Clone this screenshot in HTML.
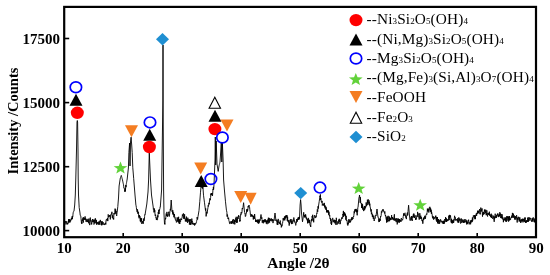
<!DOCTYPE html>
<html><head><meta charset="utf-8"><style>
html,body{margin:0;padding:0;background:#fff;}
svg{display:block;will-change:transform;}
.tk{font-family:"Liberation Serif",serif;font-weight:bold;font-size:15px;fill:#000;}
.ax{font-family:"Liberation Serif",serif;font-weight:bold;font-size:14.5px;fill:#000;}
.lg{font-family:"Liberation Serif",serif;font-size:15.3px;fill:#000;letter-spacing:0.12px;}
.s{font-size:9px;}
</style></head><body>
<svg width="550" height="275" viewBox="0 0 550 275">
<rect x="0" y="0" width="550" height="275" fill="#fff"/>
<polyline points="64.8,222.0 65.0,221.4 65.3,222.4 65.5,221.3 66.0,224.5 66.2,223.6 66.4,222.9 66.6,221.4 66.8,222.0 67.0,221.8 67.2,223.9 67.4,223.1 67.6,224.4 67.8,223.5 68.0,223.4 68.2,223.5 68.4,222.6 68.6,219.1 68.8,222.6 69.0,220.7 69.2,221.9 69.4,222.2 69.6,219.0 69.8,219.3 70.0,222.4 70.2,220.4 70.4,220.5 70.6,221.2 70.8,220.1 71.0,219.6 71.2,220.1 71.4,217.9 71.6,219.1 71.8,219.0 72.0,218.0 72.2,216.2 72.4,219.2 72.6,216.6 72.8,216.9 73.0,214.2 73.2,212.6 73.4,211.7 73.6,211.7 73.8,211.5 74.0,211.0 74.7,205.0 75.3,195.0 75.8,178.0 76.5,150.0 77.0,122.0 77.3,120.5 77.6,122.0 78.0,150.0 78.2,178.0 78.5,195.0 79.2,207.6 80.0,213.0 80.2,215.1 80.4,215.6 80.6,215.6 80.8,215.9 81.0,218.5 81.5,223.4 81.7,221.8 81.9,223.8 82.1,219.8 82.3,220.8 82.5,219.6 82.7,220.5 82.9,217.7 83.1,220.3 83.3,222.6 83.5,220.7 83.7,217.2 83.9,219.5 84.1,219.5 84.3,218.0 84.5,219.0 84.7,219.7 84.9,218.7 85.1,216.4 85.3,219.9 85.5,218.5 85.7,219.9 85.9,220.7 86.1,221.8 86.3,220.4 86.5,220.2 86.7,220.7 86.9,218.8 87.1,222.1 87.3,220.5 87.5,221.8 87.7,220.9 87.9,219.3 88.1,219.6 88.3,220.1 88.5,220.7 88.7,223.3 88.9,218.6 89.1,220.0 89.3,223.2 89.5,223.4 89.7,225.1 89.9,223.0 90.1,218.4 90.3,217.6 90.5,220.2 90.7,221.4 90.9,220.3 91.1,220.3 91.3,224.3 91.5,223.4 91.7,224.3 91.9,221.9 92.1,221.2 92.3,220.6 92.5,219.0 92.7,222.1 92.9,221.1 93.1,221.5 93.3,222.1 93.5,221.8 93.7,219.6 93.9,224.5 94.1,224.3 94.3,223.9 94.5,223.4 94.7,219.7 94.9,221.3 95.1,223.1 95.3,218.3 95.5,220.7 95.8,221.0 96.0,221.8 96.2,223.5 96.4,219.9 96.6,224.7 96.9,223.1 97.1,222.1 97.3,222.9 97.5,222.5 97.7,223.6 97.9,222.8 98.1,224.5 98.4,221.7 98.6,222.2 98.8,224.6 99.0,223.0 99.2,222.9 99.4,221.3 99.6,224.1 99.9,224.8 100.1,221.6 100.3,219.9 100.5,222.0 100.7,222.0 100.9,222.2 101.1,222.2 101.4,225.1 101.6,221.4 101.8,225.3 102.0,223.5 102.2,221.3 102.4,222.0 102.6,224.1 102.9,224.7 103.1,224.2 103.3,223.2 103.5,222.5 103.7,223.2 103.9,223.7 104.1,224.9 104.3,224.2 104.5,225.0 104.7,224.8 104.9,224.7 105.1,223.2 105.4,223.8 105.6,222.8 105.8,224.5 106.0,220.7 106.2,220.9 106.4,219.3 106.6,219.1 106.8,219.3 107.0,219.0 107.2,220.3 107.4,218.1 107.6,219.0 107.8,221.1 108.0,218.0 108.2,214.4 108.4,215.4 108.6,217.2 108.9,217.1 109.1,216.5 109.3,215.0 109.5,215.3 109.7,216.6 109.9,216.2 110.1,215.1 110.3,219.4 110.5,216.4 110.7,216.4 110.9,214.4 111.1,214.6 111.3,213.8 111.5,213.6 111.7,214.2 111.9,211.8 112.1,214.9 112.3,217.9 112.5,217.0 112.7,215.3 112.9,217.3 113.1,219.1 113.3,219.2 113.5,218.0 113.7,219.4 113.9,213.3 114.1,214.4 114.3,213.5 114.5,213.0 114.7,213.6 114.9,213.9 115.1,208.6 115.3,213.1 115.5,211.0 115.7,209.5 115.9,213.7 116.1,211.0 116.3,214.5 116.5,215.0 116.7,215.9 117.0,212.8 117.2,212.0 117.8,206.5 118.5,198.0 119.1,186.0 120.3,178.0 120.5,177.5 120.7,177.0 120.9,176.4 121.1,175.9 121.3,175.4 121.5,176.2 121.7,176.9 121.9,177.7 122.1,178.5 122.3,179.2 122.5,180.0 122.7,181.0 122.9,181.9 123.1,182.9 123.3,183.8 123.5,184.8 123.7,186.1 123.9,188.0 124.1,187.9 124.3,188.5 124.5,189.6 124.7,191.7 124.9,190.6 125.2,188.2 125.4,191.5 125.6,188.0 125.8,185.0 126.0,187.2 126.2,184.6 126.4,183.5 126.6,182.4 126.8,181.2 127.0,180.1 127.2,179.0 128.4,168.0 128.9,152.5 129.6,143.0 130.0,166.0 130.5,142.0 131.1,137.2 131.7,145.0 132.2,152.5 132.8,167.8 133.7,178.7 135.0,195.0 135.9,205.0 136.1,205.8 136.4,207.7 136.6,209.9 136.8,210.0 137.0,210.9 137.2,212.1 137.4,209.2 137.6,209.7 137.8,213.7 138.0,211.7 138.3,212.1 138.5,212.0 138.7,216.9 138.9,216.6 139.1,218.3 139.3,215.0 139.5,217.0 139.7,217.4 139.9,216.1 140.1,219.6 140.3,221.3 140.6,217.8 140.8,222.2 141.0,221.7 141.2,220.3 141.4,221.0 141.6,218.2 141.9,224.0 142.1,222.0 142.3,222.5 142.5,221.2 142.8,222.5 143.0,222.3 143.3,223.7 143.5,221.0 143.7,218.5 143.9,221.1 144.1,220.8 144.4,219.9 144.6,216.4 144.8,214.7 145.0,215.0 146.8,204.0 148.0,192.0 148.6,180.0 149.1,160.0 149.3,153.0 149.6,160.0 150.5,180.0 151.5,195.0 153.2,207.0 153.4,209.4 153.6,208.7 153.8,209.5 154.0,212.4 154.2,210.5 154.4,208.5 154.6,211.8 154.8,210.3 155.0,214.0 155.2,215.9 155.4,215.6 155.6,214.7 155.8,216.2 156.0,218.1 156.2,217.5 156.4,220.0 156.6,218.3 156.8,219.0 157.0,220.0 157.2,220.1 157.5,219.7 157.7,215.4 157.9,217.3 158.2,212.2 158.4,212.9 158.6,214.0 158.8,210.0 159.0,214.0 159.2,209.4 159.4,210.5 159.7,209.3 159.9,208.7 160.1,206.9 160.3,207.0 161.6,190.0 162.9,100.0 163.0,45.0 163.1,100.0 163.6,190.0 164.0,214.0 164.5,224.0 164.7,223.2 164.9,224.5 165.1,220.5 165.3,220.0 165.5,218.0 165.7,218.8 165.9,216.1 166.1,213.6 166.3,213.9 166.5,214.0 166.7,216.0 166.9,211.9 167.1,213.9 167.3,216.7 167.5,215.4 167.7,216.3 167.9,214.6 168.1,215.5 168.3,214.1 168.5,213.4 168.7,211.9 168.9,211.7 169.1,213.6 169.3,216.5 169.5,215.4 169.7,213.5 169.9,211.9 170.1,211.1 170.3,208.9 170.5,210.3 171.2,200.0 172.0,211.5 172.2,211.8 172.4,210.6 172.6,213.6 172.8,210.3 173.0,214.0 173.2,215.0 173.4,214.0 173.6,212.5 173.8,217.2 174.0,216.6 174.2,216.4 174.4,214.0 174.6,216.0 174.8,218.2 175.0,218.0 175.2,217.6 175.4,220.0 175.6,220.3 175.8,220.5 176.0,219.8 176.2,220.6 176.4,222.4 176.6,221.6 176.8,221.5 177.0,221.0 177.2,217.3 177.4,221.4 177.6,221.6 177.8,218.5 178.0,218.5 178.2,218.1 178.4,222.4 178.6,216.8 178.8,220.8 179.0,220.4 179.2,223.7 179.4,219.2 179.6,221.9 179.8,223.9 180.0,221.0 180.2,220.6 180.4,221.4 180.6,221.7 180.8,218.6 181.0,219.8 181.2,219.3 181.4,219.5 181.6,220.0 181.8,218.3 182.0,218.0 182.2,216.9 182.4,214.8 182.6,215.0 182.8,216.2 183.0,214.0 183.2,214.6 183.4,213.4 183.6,213.9 183.8,218.8 184.0,216.0 184.2,218.3 184.4,218.0 184.6,214.3 184.8,219.0 185.0,218.5 185.2,219.4 185.4,221.5 185.6,219.6 185.8,219.0 186.0,219.2 186.2,220.3 186.4,216.6 186.6,221.6 186.8,220.7 187.0,220.4 187.2,219.2 187.4,222.3 187.6,222.9 187.8,217.7 188.0,219.8 188.2,219.1 188.4,221.0 188.6,221.2 188.8,220.7 189.0,221.7 189.2,220.0 189.4,224.6 189.6,222.9 189.8,219.2 190.0,221.0 190.2,219.1 190.4,224.3 190.6,223.4 190.8,225.0 191.0,222.4 191.2,223.6 191.4,220.7 191.6,222.4 191.8,218.6 192.0,221.7 192.2,221.0 192.4,222.6 192.6,224.1 192.8,222.6 193.0,224.3 193.2,223.8 193.4,224.5 193.6,224.1 193.8,224.3 194.0,223.0 194.2,223.7 194.4,223.3 194.6,225.5 194.8,224.7 195.0,225.0 195.2,223.4 195.4,223.4 195.6,224.1 195.8,223.6 196.0,223.5 196.2,223.0 196.4,221.9 196.6,221.4 196.8,220.2 197.0,219.6 197.2,217.0 197.4,219.1 197.6,219.5 197.8,217.9 198.0,216.6 199.0,210.5 199.8,201.3 200.5,192.2 201.0,187.0 201.2,186.6 201.4,187.5 201.6,185.2 201.8,183.6 202.0,186.5 202.2,186.9 202.4,185.6 202.6,188.6 202.8,186.0 203.0,188.0 203.5,195.2 204.5,202.8 205.5,210.5 205.7,208.4 205.9,211.1 206.1,216.4 206.3,215.0 206.5,213.9 206.8,211.8 207.0,213.5 208.0,207.4 208.2,205.3 208.4,206.4 208.6,205.4 208.8,204.0 209.0,202.8 209.2,204.3 209.4,202.1 209.6,200.1 209.8,200.2 210.0,198.3 210.2,200.2 210.4,198.3 210.6,197.7 210.8,193.5 211.0,194.5 211.2,194.0 211.4,195.1 211.6,193.1 211.8,195.0 212.0,193.0 212.2,195.5 212.5,196.0 213.0,189.0 213.2,189.6 213.4,186.9 213.6,189.5 213.8,187.4 214.0,184.5 215.0,160.0 215.3,137.0 215.7,165.0 216.2,141.0 217.0,164.0 218.2,171.4 219.0,166.0 219.2,165.2 219.4,164.4 219.6,163.6 219.8,162.8 220.0,162.0 221.3,143.0 221.8,162.0 222.4,143.0 223.1,160.0 223.6,180.0 224.5,191.0 225.5,201.8 226.4,210.0 226.6,210.8 226.9,212.4 227.1,216.6 227.3,214.5 227.5,214.9 227.8,217.7 228.0,218.8 228.2,218.2 228.4,218.9 228.6,217.7 228.9,220.6 229.1,221.0 229.3,222.0 229.6,223.7 229.8,223.5 230.0,222.7 230.2,222.4 230.4,223.4 230.6,222.5 230.8,221.7 231.0,221.0 231.2,221.6 231.4,221.7 231.6,223.7 231.8,221.4 232.0,223.6 232.2,222.2 232.4,222.9 232.6,220.2 232.8,221.5 233.0,221.8 233.2,219.0 233.4,221.4 233.6,223.8 233.8,224.1 234.0,223.6 234.2,223.0 234.4,222.2 234.6,219.8 234.8,224.4 235.0,221.0 235.2,221.4 235.4,221.9 235.6,218.4 235.8,219.1 236.0,219.0 236.2,216.8 236.4,221.7 236.6,222.7 236.8,218.9 237.0,222.7 237.2,221.9 237.4,222.2 237.6,217.7 237.8,216.8 238.0,219.0 238.2,216.8 238.4,217.0 238.6,215.2 238.8,217.0 239.0,216.4 239.2,217.5 239.4,218.9 239.6,219.7 239.8,221.7 240.0,220.0 240.2,220.8 240.4,215.7 240.6,215.9 240.8,213.9 241.0,214.5 241.2,212.2 241.4,213.3 241.6,212.9 241.8,213.1 242.0,211.8 242.2,208.4 242.4,208.0 242.6,209.1 242.8,207.9 243.0,207.3 243.6,202.7 244.5,212.0 244.7,212.4 244.9,213.7 245.1,213.4 245.3,216.6 245.5,216.4 245.7,216.3 245.9,214.9 246.1,213.3 246.3,213.4 246.5,213.0 246.7,209.4 246.9,210.6 247.1,211.9 247.3,209.0 247.5,211.0 247.7,210.5 247.9,209.5 248.1,206.2 248.4,207.2 248.6,206.2 248.8,206.6 249.0,205.0 249.2,207.2 249.4,207.3 249.6,207.2 249.8,209.6 250.0,211.0 250.2,212.1 250.4,214.6 250.6,215.1 250.8,214.6 251.0,217.0 251.2,214.6 251.4,215.9 251.6,215.1 251.8,214.3 252.0,215.8 252.2,215.7 252.4,215.2 252.6,216.2 252.9,217.0 253.1,215.6 253.3,219.5 253.5,216.4 253.7,216.0 253.9,218.5 254.1,217.1 254.4,218.8 254.6,214.0 254.8,216.1 255.0,217.5 255.2,218.3 255.4,219.2 255.6,221.9 255.9,219.6 256.1,221.5 256.3,221.0 256.5,220.2 256.7,222.0 256.9,221.7 257.1,220.9 257.3,222.3 257.5,221.8 257.7,219.8 257.9,223.2 258.1,219.4 258.3,221.2 258.5,220.5 258.7,223.7 258.9,220.2 259.1,220.6 259.4,222.5 259.6,220.7 259.8,219.4 260.0,220.7 261.0,214.5 261.2,215.9 261.4,217.5 261.6,218.7 261.8,217.3 262.0,219.6 262.2,222.6 262.4,222.8 262.6,220.4 262.9,221.0 263.1,220.1 263.3,223.3 263.5,221.3 263.7,220.0 263.9,222.0 264.1,220.0 264.4,219.4 264.6,221.5 264.8,222.3 265.0,220.0 265.2,220.2 265.4,219.3 265.6,221.9 265.9,220.7 266.1,221.4 266.3,223.6 266.5,221.3 266.7,223.0 266.9,220.2 267.1,224.2 267.4,220.8 267.6,222.0 267.8,219.6 268.0,220.5 268.2,220.4 268.4,217.7 268.6,223.4 268.8,222.8 269.0,218.7 269.2,218.2 269.4,218.0 269.6,222.5 269.8,219.9 270.0,220.7 270.2,220.6 270.4,220.2 270.6,220.4 270.8,218.9 271.0,220.6 271.2,218.3 271.4,220.4 271.6,221.0 271.8,221.3 272.0,220.5 272.2,220.1 272.4,219.1 272.6,220.8 272.8,219.8 273.0,223.1 273.2,221.8 273.4,220.5 273.6,219.9 273.8,219.6 274.0,220.7 275.0,213.0 276.0,221.0 276.2,219.6 276.4,220.6 276.6,221.7 276.8,222.1 277.0,222.3 277.2,224.7 277.4,220.4 277.6,221.7 277.8,224.9 278.0,221.8 278.2,218.9 278.4,221.2 278.6,222.4 278.8,222.5 279.0,223.1 279.2,222.1 279.4,223.2 279.6,222.8 279.8,224.1 280.0,223.0 280.2,220.5 280.4,222.7 280.6,224.7 280.9,223.6 281.1,224.2 281.3,227.4 281.5,227.0 281.7,225.1 281.9,226.2 282.1,225.5 282.4,223.9 282.6,223.3 282.8,221.4 283.0,220.7 283.2,218.1 283.4,219.9 283.6,220.3 283.8,218.4 284.0,218.7 284.2,219.7 284.4,216.8 284.6,218.8 284.8,220.4 285.0,216.2 285.2,217.0 285.4,216.1 285.6,218.5 285.8,216.2 286.0,215.3 286.2,217.3 286.4,215.3 286.6,216.9 286.8,217.4 287.0,215.2 287.2,220.8 287.4,220.5 287.6,216.8 287.8,221.4 288.0,220.7 288.2,220.9 288.4,222.2 288.6,222.5 288.8,220.0 289.0,222.4 289.2,225.6 289.4,222.7 289.6,224.0 289.8,221.5 290.1,220.2 290.3,219.5 290.5,221.2 290.8,222.5 291.0,219.0 291.2,220.3 291.4,220.6 291.6,224.1 291.9,220.7 292.1,221.1 292.3,223.6 292.5,223.4 292.7,223.6 292.9,220.5 293.1,219.6 293.4,221.4 293.6,220.7 293.8,217.5 294.0,219.0 294.2,219.5 294.4,219.7 294.6,222.1 294.9,222.0 295.1,222.8 295.3,223.1 295.5,224.5 295.7,225.4 295.9,225.2 296.1,221.6 296.4,222.7 296.6,219.4 296.8,219.9 297.0,219.0 297.2,220.3 297.4,221.6 297.6,218.6 297.9,219.2 298.1,219.7 298.3,217.1 298.5,219.6 298.7,219.4 298.9,218.1 299.1,219.5 299.3,216.9 299.5,218.5 300.1,205.0 300.6,199.6 301.1,205.0 301.5,213.0 302.5,221.8 303.5,215.3 303.7,212.3 303.9,215.6 304.1,216.1 304.4,214.9 304.6,217.4 304.8,215.6 305.0,216.2 305.2,215.4 305.4,217.4 305.6,214.3 305.9,215.9 306.1,217.2 306.3,218.8 306.5,217.6 306.7,218.1 306.9,219.6 307.1,218.8 307.3,221.0 307.5,221.3 307.7,223.4 307.9,219.0 308.1,222.8 308.3,217.9 308.5,218.4 308.7,219.3 308.9,220.4 309.1,222.6 309.3,219.9 309.5,222.7 309.7,220.0 309.9,224.6 310.1,225.4 310.3,225.5 310.5,225.0 310.7,227.0 310.9,222.9 311.1,221.8 311.3,221.7 311.5,219.0 311.7,219.3 311.9,221.1 312.1,216.2 312.3,217.3 312.5,217.6 312.7,214.8 312.9,219.8 313.1,218.3 313.3,220.8 313.5,219.8 313.7,222.3 313.9,218.4 314.1,217.2 314.3,216.1 314.5,216.2 314.7,215.1 314.9,215.8 315.1,218.1 315.3,217.4 315.5,217.6 315.7,217.1 315.9,216.2 316.1,217.3 316.3,216.1 316.5,214.7 316.7,213.6 316.9,214.0 317.1,211.9 317.3,209.4 317.5,210.4 317.7,211.8 317.9,209.4 318.1,206.2 318.3,208.6 318.5,206.0 319.2,201.6 320.0,195.8 320.2,196.9 320.4,194.4 320.6,200.0 320.8,198.0 321.0,199.7 321.3,201.8 321.5,201.6 321.7,202.5 321.9,202.5 322.1,200.9 322.3,205.5 322.5,204.5 322.7,204.4 322.9,203.8 323.1,204.6 323.3,204.1 323.5,203.8 323.7,205.5 323.9,204.4 324.1,205.5 324.3,202.9 324.5,206.7 324.7,205.9 324.9,207.5 325.1,208.4 325.3,205.6 325.5,206.0 325.7,206.4 325.9,209.7 326.1,207.2 326.3,209.5 326.5,208.9 326.7,212.2 326.9,210.1 327.1,212.6 327.3,210.1 327.5,211.8 327.7,211.9 327.9,211.1 328.1,211.1 328.3,212.5 328.5,210.4 328.7,214.8 328.9,211.7 329.1,213.0 329.3,215.8 329.5,216.2 329.7,215.1 329.9,218.1 330.1,218.8 330.3,218.0 330.5,219.0 330.7,221.0 330.9,218.9 331.1,223.8 331.3,221.3 331.5,225.0 332.5,218.4 332.7,217.9 332.9,218.7 333.1,219.5 333.3,222.1 333.5,221.3 333.7,221.1 333.9,220.1 334.1,221.3 334.3,222.6 334.5,219.8 334.7,220.4 334.9,221.5 335.1,223.5 335.3,222.5 335.5,222.7 335.7,220.2 335.9,225.0 336.1,224.6 336.3,217.8 336.5,220.5 336.7,221.2 336.9,222.6 337.1,224.3 337.3,224.5 337.5,224.2 337.7,223.2 337.9,221.4 338.1,222.6 338.3,223.5 338.5,221.3 338.7,219.7 338.9,219.9 339.1,221.7 339.3,218.8 339.5,222.0 339.8,222.7 340.0,224.2 340.2,222.8 340.4,223.4 340.6,220.9 340.8,219.8 341.0,220.5 341.2,219.3 341.4,219.3 341.6,217.7 341.8,218.2 342.0,217.6 342.2,218.2 342.4,218.3 342.6,218.6 342.8,214.0 343.0,214.7 343.2,213.7 343.4,210.9 343.6,216.9 343.8,212.4 344.0,213.3 344.2,213.7 344.4,215.0 344.6,212.4 344.8,215.8 345.0,215.5 345.2,216.0 345.4,213.7 345.6,217.7 345.8,219.7 346.0,218.4 346.2,215.8 346.4,220.5 346.6,220.0 346.8,220.8 347.0,220.5 347.2,222.1 347.4,224.4 347.6,222.8 347.8,225.5 348.0,225.0 348.2,223.1 348.4,223.8 348.6,220.1 348.8,220.0 349.0,219.0 349.2,222.5 349.4,221.2 349.6,221.0 349.8,220.1 350.0,222.7 350.2,220.7 350.4,221.5 350.6,222.0 350.8,220.4 351.0,219.0 351.2,219.6 351.4,218.4 351.6,220.3 351.8,217.3 352.0,217.6 352.2,217.0 352.4,219.6 352.6,218.5 352.8,218.3 353.0,219.0 353.2,217.1 353.4,216.6 353.6,217.0 353.8,215.6 354.0,214.0 354.2,211.3 354.4,213.2 354.6,212.1 354.8,209.5 355.0,210.4 355.2,211.3 355.4,209.4 355.6,209.0 355.8,210.5 356.0,208.9 356.2,211.9 356.4,209.6 356.6,212.2 356.8,211.0 357.0,213.3 357.2,215.3 357.4,210.2 357.6,211.7 357.8,207.6 358.0,207.5 359.0,197.3 359.2,197.4 359.5,195.0 360.0,198.7 360.2,202.8 360.4,197.2 360.6,200.6 360.8,202.9 361.0,203.0 361.2,203.5 361.4,203.1 361.6,208.0 361.8,205.5 362.0,206.0 362.2,203.8 362.4,208.2 362.6,204.6 362.8,209.6 363.0,208.2 363.2,207.6 363.4,209.0 363.6,211.1 363.8,209.5 364.0,209.6 364.2,207.0 364.4,206.0 364.6,210.2 364.8,209.1 365.0,207.5 365.2,205.9 365.4,208.3 365.6,207.4 365.8,207.3 366.0,206.0 366.2,202.4 366.4,204.6 366.6,206.1 366.8,205.4 367.0,203.8 367.2,204.8 367.4,199.7 367.6,202.8 367.8,202.8 368.0,201.6 368.2,204.5 368.4,199.5 368.6,200.2 368.8,200.5 369.0,200.2 369.2,202.8 369.4,201.8 369.6,205.5 369.8,203.6 370.0,206.0 370.2,207.5 370.4,207.4 370.6,209.6 370.8,209.3 371.0,211.5 371.2,209.4 371.4,214.2 371.6,213.5 371.8,212.6 372.0,214.0 372.2,215.0 372.4,216.9 372.6,214.4 372.8,216.5 373.0,217.3 373.2,218.5 373.4,218.9 373.6,217.9 373.8,215.6 374.0,219.2 374.2,221.0 374.4,219.4 374.6,218.8 374.8,218.2 375.0,218.5 375.2,218.4 375.4,216.8 375.6,215.4 375.8,215.3 376.0,216.0 377.0,209.0 378.0,217.3 378.2,217.2 378.4,218.1 378.6,218.1 378.8,221.8 379.0,221.7 379.2,219.1 379.4,221.8 379.6,218.6 379.8,220.3 380.0,219.2 380.2,220.8 380.4,218.2 380.6,216.1 380.8,216.7 381.0,216.0 381.2,215.3 381.4,211.4 381.6,212.3 381.8,212.7 382.0,211.5 382.2,210.2 382.4,210.6 382.6,211.2 382.8,210.7 383.0,209.0 383.2,211.1 383.4,211.2 383.6,210.5 383.8,211.5 384.0,212.2 384.2,212.3 384.4,212.7 384.6,213.4 384.8,211.4 385.0,214.7 385.2,214.8 385.4,216.0 385.6,215.1 385.8,217.3 386.0,218.0 386.2,219.3 386.4,218.7 386.6,222.6 386.8,216.7 387.0,220.4 387.2,219.7 387.4,216.7 387.6,220.8 387.8,222.1 388.0,218.5 388.2,215.8 388.4,219.7 388.6,220.8 388.8,220.0 389.0,221.0 389.2,221.3 389.4,216.6 389.6,220.6 389.8,219.2 390.0,218.0 390.2,218.4 390.4,217.8 390.6,220.1 390.8,218.7 391.0,219.8 391.2,219.7 391.4,218.0 391.6,215.1 391.8,217.7 392.0,217.3 392.2,218.0 392.4,219.3 392.6,217.0 392.8,218.8 393.0,219.2 393.2,219.7 393.4,218.4 393.6,219.6 393.8,220.3 394.0,216.6 394.2,215.5 394.4,214.3 394.6,219.1 394.8,220.6 395.0,218.5 395.2,220.4 395.4,220.6 395.6,218.7 395.8,218.9 396.0,220.4 396.2,222.1 396.4,219.5 396.6,218.3 396.8,219.8 397.0,221.7 397.2,224.4 397.4,223.8 397.6,219.1 397.8,218.5 398.0,219.2 398.2,219.9 398.4,218.7 398.6,222.4 398.8,220.5 399.0,221.0 399.2,219.0 399.4,222.6 399.6,219.3 399.8,220.4 400.0,219.8 400.2,220.2 400.4,220.1 400.6,221.5 400.8,220.2 401.0,221.7 401.2,218.5 401.4,218.0 401.6,218.9 401.8,219.4 402.0,220.4 402.2,220.0 402.4,219.7 402.6,220.1 402.8,219.1 403.0,218.5 403.2,216.6 403.4,216.1 403.6,213.4 403.8,215.7 404.0,215.4 404.2,215.7 404.4,215.2 404.6,213.6 404.8,213.0 405.0,212.8 405.2,215.3 405.4,214.9 405.6,217.1 405.8,217.9 406.0,218.0 406.2,217.8 406.4,219.1 406.6,215.5 406.8,215.3 407.0,215.4 407.2,213.3 407.4,212.6 407.6,215.5 407.8,215.1 408.0,211.5 408.6,205.2 409.3,214.0 410.0,220.4 410.2,219.8 410.4,220.1 410.6,220.4 410.8,219.2 411.0,217.3 411.2,219.6 411.4,216.0 411.6,217.4 411.8,219.5 412.0,219.2 412.2,221.0 412.4,218.3 412.6,216.3 412.8,216.6 413.0,216.6 413.2,215.0 413.4,214.2 413.6,217.4 413.8,213.5 414.0,214.0 414.2,214.4 414.4,218.0 414.6,217.1 414.8,216.1 415.0,216.0 415.2,215.4 415.4,217.5 415.6,219.8 415.8,218.6 416.0,218.0 416.2,219.5 416.4,217.1 416.6,217.3 416.8,215.6 417.0,215.4 417.2,215.7 417.4,216.7 417.6,211.9 417.8,213.7 418.0,213.4 418.2,214.4 418.4,213.8 418.6,214.8 418.8,217.2 419.0,216.6 419.2,219.6 419.4,217.1 419.6,216.4 419.8,213.2 420.0,215.4 420.2,219.0 420.4,216.6 420.6,216.9 420.8,215.7 421.0,218.0 421.2,218.4 421.4,217.2 421.6,219.6 421.8,220.7 422.0,220.4 422.2,220.7 422.4,221.4 422.6,219.8 422.8,223.7 423.0,221.7 423.2,220.2 423.4,217.8 423.6,219.9 423.8,218.5 424.0,219.2 424.2,217.2 424.4,217.9 424.6,218.5 424.8,215.8 425.0,217.3 425.2,216.7 425.4,218.8 425.6,217.3 425.8,215.5 426.0,215.4 426.2,215.1 426.4,214.2 426.6,213.8 426.8,214.5 427.0,212.8 427.2,212.2 427.4,208.6 427.6,211.3 427.8,209.4 428.0,210.3 428.2,211.1 428.4,208.8 428.6,209.8 428.8,212.5 429.0,209.0 429.2,207.6 429.4,207.7 429.6,207.5 429.8,206.8 430.0,210.3 430.2,207.7 430.4,211.6 430.6,210.4 430.8,208.8 431.0,212.2 431.2,210.2 431.4,213.9 431.6,212.0 431.8,213.1 432.0,214.0 432.2,214.9 432.4,217.0 432.6,218.3 432.8,217.3 433.0,216.0 433.2,216.5 433.4,216.8 433.6,219.7 433.8,219.3 434.0,217.3 434.2,217.0 434.4,218.5 434.6,218.5 434.8,218.3 435.0,218.5 435.2,217.6 435.4,216.2 435.6,217.3 435.8,215.6 436.0,218.0 436.2,220.3 436.4,219.6 436.6,217.2 436.8,221.7 437.0,219.8 437.2,221.3 437.4,217.0 437.6,223.1 437.8,221.6 438.0,220.4 438.2,223.9 438.4,219.0 438.6,222.0 438.8,222.1 439.0,221.7 439.2,222.2 439.4,222.3 439.6,223.8 439.8,219.9 440.0,222.4 440.2,220.0 440.4,219.4 440.6,220.3 440.8,219.8 441.0,220.4 441.2,221.4 441.4,221.6 441.6,221.7 441.8,220.9 442.0,222.4 442.2,221.4 442.4,223.4 442.6,222.8 442.8,221.4 443.0,221.0 443.2,220.8 443.4,224.0 443.6,220.9 443.8,223.2 444.0,222.4 444.2,223.8 444.4,221.2 444.6,222.5 444.8,219.0 445.0,220.4 445.2,221.8 445.4,220.2 445.6,217.1 445.8,220.5 446.0,219.2 446.2,218.1 446.4,222.0 446.6,219.2 446.8,220.4 447.0,221.0 447.2,221.2 447.4,220.0 447.6,220.7 447.8,219.2 448.0,219.8 448.2,220.6 448.4,219.3 448.6,219.4 448.8,215.6 449.0,218.5 449.2,220.1 449.4,218.1 449.6,214.9 449.8,217.7 450.0,217.3 450.2,217.1 450.5,215.4 451.0,221.0 451.2,222.5 451.4,218.8 451.6,222.8 451.8,219.8 452.0,219.8 452.2,223.5 452.4,220.6 452.6,222.4 452.8,221.3 453.0,222.4 453.2,220.0 453.4,222.9 453.6,221.9 453.8,222.3 454.0,219.2 454.2,220.3 454.4,217.8 454.6,215.8 454.8,217.2 455.0,218.0 455.2,217.4 455.4,217.7 455.6,220.4 455.8,220.4 456.0,220.4 456.2,219.7 456.4,220.2 456.6,219.4 456.8,219.8 457.0,219.2 457.2,220.8 457.4,221.5 457.6,219.2 457.8,218.2 458.0,221.0 458.2,223.0 458.4,220.7 458.6,222.0 458.8,217.4 459.0,219.8 459.2,219.7 459.4,220.6 459.6,218.6 459.8,220.5 460.0,221.7 460.2,222.6 460.4,222.9 460.6,223.5 460.8,219.3 461.0,220.4 461.2,218.4 461.4,221.8 461.6,222.7 461.8,221.7 462.0,221.7 462.2,219.4 462.4,222.4 462.6,222.2 462.8,221.5 463.0,220.4 463.2,220.0 463.4,221.7 463.6,222.9 463.8,221.1 464.0,222.4 464.2,219.2 464.4,222.4 464.6,222.3 464.8,221.3 465.0,221.0 465.2,222.2 465.4,219.6 465.6,220.1 465.8,219.6 466.0,219.8 466.2,221.1 466.4,223.1 466.6,220.5 466.8,224.5 467.0,221.7 467.2,223.9 467.4,222.4 467.6,221.9 467.8,223.5 468.0,220.4 468.2,220.4 468.4,220.9 468.6,219.7 468.8,222.4 469.0,222.0 469.2,224.4 469.4,223.3 469.6,223.3 469.8,222.5 470.0,223.0 470.2,223.2 470.4,220.5 470.6,224.3 470.8,221.9 471.0,222.4 471.2,220.2 471.4,220.4 471.6,219.9 471.8,222.2 472.0,220.4 472.2,221.7 472.4,217.5 472.6,220.7 472.8,220.3 473.0,218.5 473.2,217.2 473.4,215.4 473.6,216.2 473.8,216.0 474.0,216.6 474.2,217.7 474.4,217.1 474.6,215.0 474.8,219.1 475.0,219.2 475.2,216.0 475.4,219.1 475.6,215.0 475.8,215.1 476.0,215.4 476.2,213.5 476.4,213.5 476.6,215.9 476.8,214.7 477.0,212.8 477.2,213.9 477.4,213.6 477.6,210.7 477.8,212.4 478.0,213.4 478.2,212.1 478.4,211.1 478.6,213.1 478.8,210.7 479.0,211.5 479.2,210.6 479.4,210.3 479.6,209.1 479.8,213.5 480.0,212.8 480.2,214.4 480.4,212.1 480.6,209.7 480.8,207.6 481.0,210.3 481.2,210.2 481.4,211.5 481.6,209.6 481.8,210.3 482.0,208.4 482.5,216.6 483.0,212.2 483.2,214.7 483.4,214.2 483.6,211.9 483.8,214.4 484.0,212.8 484.2,213.8 484.4,209.8 484.6,211.4 484.8,209.5 485.0,211.5 485.2,211.7 485.4,213.2 485.6,210.9 485.8,209.8 486.0,213.4 486.2,215.2 486.4,213.5 486.6,215.0 486.8,210.3 487.0,212.2 487.2,214.3 487.4,216.1 487.6,216.5 487.8,213.3 488.0,214.0 488.2,214.2 488.4,213.3 488.6,214.9 488.8,214.7 489.0,212.8 489.2,213.5 489.4,211.7 489.6,215.5 489.8,214.1 490.0,215.4 490.2,216.1 490.4,215.3 490.6,217.2 490.8,216.1 491.0,214.0 491.2,213.7 491.4,215.4 491.6,218.0 491.8,214.7 492.0,216.0 492.2,217.0 492.4,218.4 492.6,218.8 492.8,217.9 493.0,217.3 493.2,215.6 493.4,216.0 493.6,218.8 493.8,219.4 494.0,219.2 494.2,221.8 494.4,216.5 494.6,219.1 494.8,217.9 495.0,216.0 495.2,213.7 495.4,215.5 495.6,217.5 495.8,216.8 496.0,218.0 496.2,217.2 496.4,217.7 496.6,215.1 496.8,216.7 497.0,215.4 497.2,214.1 497.4,214.0 497.6,215.4 497.8,213.4 498.0,214.0 498.2,214.7 498.4,217.1 498.6,214.9 498.8,214.9 499.0,215.4 499.2,216.3 499.4,214.3 499.6,216.3 499.8,212.2 500.0,214.0 500.2,215.3 500.4,213.7 500.6,213.6 500.8,218.0 501.0,215.4 501.2,214.1 501.4,218.3 501.6,216.5 501.8,217.8 502.0,215.5 502.2,214.4 502.4,218.4 502.6,219.3 502.8,217.3 503.0,218.0 503.2,218.3 503.4,222.2 503.6,219.7 503.8,219.2 504.0,220.4 504.2,218.8 504.4,219.9 504.6,219.1 504.8,218.2 505.0,217.3 505.2,220.6 505.4,217.8 505.6,219.6 505.8,221.6 506.0,219.8 506.2,217.8 506.4,220.7 506.6,221.7 506.8,216.2 507.0,218.0 507.2,216.7 507.4,217.3 507.6,216.5 507.8,220.6 508.0,220.4 508.2,217.1 508.4,220.4 508.6,221.6 508.8,216.3 509.0,218.5 509.2,218.3 509.4,216.0 509.6,220.5 509.8,218.4 510.0,219.8 510.2,219.0 510.4,219.2 510.6,219.6 510.8,217.8 511.0,218.0 511.2,217.9 511.4,216.8 511.6,217.8 511.8,215.6 512.0,217.3 512.2,216.7 512.4,212.9 512.6,214.5 512.8,217.7 513.0,214.0 513.2,214.9 513.4,213.6 513.6,216.8 513.8,215.6 514.0,218.0 514.2,215.5 514.4,217.0 514.6,219.5 514.8,219.0 515.0,218.5 515.2,218.1 515.4,216.5 515.6,216.1 515.8,219.7 516.0,217.3 516.2,218.1 516.4,216.5 516.6,215.2 516.8,216.6 517.0,219.2 517.2,222.5 517.4,217.6 517.6,219.4 517.8,220.0 518.0,219.8 518.2,219.3 518.4,218.8 518.6,216.8 518.8,217.1 519.0,218.5 519.2,221.6 519.4,218.0 519.6,221.0 519.8,217.3 520.0,220.4 520.2,220.2 520.4,221.3 520.6,222.8 520.8,219.6 521.0,221.7 521.2,222.3 521.4,221.6 521.6,219.4 521.8,220.9 522.0,219.8 522.2,218.9 522.4,219.6 522.6,221.3 522.8,218.7 523.0,222.4 523.2,221.8 523.4,220.0 523.6,218.9 523.8,220.1 524.0,220.4 524.2,221.4 524.4,219.3 524.6,221.7 524.8,217.6 525.0,219.2 525.2,217.6 525.4,222.7 525.6,221.3 525.8,222.7 526.0,221.7 526.2,220.1 526.4,222.5 526.6,221.3 526.8,221.7 527.0,220.4 527.2,220.2 527.4,221.9 527.6,218.6 527.8,217.9 528.0,219.2 528.2,217.2 528.4,221.8 528.6,219.1 528.8,219.0 529.0,221.0 529.2,219.0 529.4,219.3 529.6,217.5 529.8,218.5 530.0,218.5 530.2,217.9 530.4,218.4 530.6,218.1 530.8,220.1 531.0,220.4 531.2,219.9 531.4,221.1 531.6,221.6 531.8,222.0 532.0,221.7 532.2,218.1 532.4,220.1 532.6,219.3 532.8,221.4 533.0,219.8 533.2,217.4 533.4,218.9 533.6,219.7 533.8,219.7 534.0,220.4 534.2,222.1 534.4,219.9 534.6,222.3 534.8,218.5 535.0,221.0" fill="none" stroke="#000" stroke-width="0.9" stroke-linejoin="miter" stroke-miterlimit="2"/>
<ellipse cx="75.9" cy="87.2" rx="5.7" ry="5.4" fill="none" stroke="#0000ff" stroke-width="1.7"/><polygon points="76,93.8 69.5,105.8 82.5,105.8" fill="#000"/><ellipse cx="77.3" cy="112.8" rx="6.5" ry="6.2" fill="#ff0000"/><polygon points="120.50,161.50 122.26,165.94 127.35,166.13 123.35,169.06 124.73,173.62 120.50,170.99 116.27,173.62 117.65,169.06 113.65,166.13 118.74,165.94" fill="#62d23a"/><polygon points="125.0,125.3 138.0,125.3 131.5,137.3" fill="#f47d22"/><ellipse cx="150" cy="122.4" rx="5.7" ry="5.4" fill="none" stroke="#0000ff" stroke-width="1.7"/><polygon points="149.7,128.7 143.2,140.7 156.2,140.7" fill="#000"/><ellipse cx="149.4" cy="147" rx="6.5" ry="6.2" fill="#ff0000"/><polygon points="162.5,33.0 169.0,39.2 162.5,45.4 156.0,39.2" fill="#1f8fd2"/><polygon points="194.2,162.6 207.2,162.6 200.7,174.6" fill="#f47d22"/><polygon points="201.2,175.0 194.7,187.0 207.7,187.0" fill="#000"/><ellipse cx="210.9" cy="179" rx="5.7" ry="5.4" fill="none" stroke="#0000ff" stroke-width="1.7"/><polygon points="214.8,97.3 209.1,108.2 220.5,108.2" fill="none" stroke="#000" stroke-width="1.1"/><polygon points="215,109.7 208.5,121.7 221.5,121.7" fill="#000"/><ellipse cx="214.9" cy="129.1" rx="6.5" ry="6.2" fill="#ff0000"/><polygon points="220.5,119.5 233.5,119.5 227,131.5" fill="#f47d22"/><ellipse cx="222.4" cy="137.5" rx="5.7" ry="5.4" fill="none" stroke="#0000ff" stroke-width="1.7"/><polygon points="234.2,190.9 247.2,190.9 240.7,202.9" fill="#f47d22"/><polygon points="244.6,192.7 256.6,192.7 250.6,204.7" fill="#f47d22"/><polygon points="300.7,186.9 307.2,193.1 300.7,199.3 294.2,193.1" fill="#1f8fd2"/><ellipse cx="320" cy="187.6" rx="5.7" ry="5.4" fill="none" stroke="#0000ff" stroke-width="1.7"/><polygon points="358.70,182.00 360.46,186.44 365.55,186.63 361.55,189.56 362.93,194.12 358.70,191.49 354.47,194.12 355.85,189.56 351.85,186.63 356.94,186.44" fill="#62d23a"/><polygon points="420.20,198.70 421.96,203.14 427.05,203.33 423.05,206.26 424.43,210.82 420.20,208.19 415.97,210.82 417.35,206.26 413.35,203.33 418.44,203.14" fill="#62d23a"/>
<ellipse cx="356" cy="20.1" rx="6.5" ry="6.2" fill="#ff0000"/><polygon points="356,33.4 349.5,45.4 362.5,45.4" fill="#000"/><ellipse cx="356" cy="58.5" rx="5.7" ry="5.4" fill="none" stroke="#0000ff" stroke-width="1.7"/><polygon points="355.80,72.90 357.56,77.34 362.65,77.53 358.65,80.46 360.03,85.02 355.80,82.39 351.57,85.02 352.95,80.46 348.95,77.53 354.04,77.34" fill="#62d23a"/><polygon points="349.5,91.0 362.5,91.0 356,103.0" fill="#f47d22"/><polygon points="356,112.3 350.3,123.2 361.7,123.2" fill="none" stroke="#000" stroke-width="1.1"/><polygon points="356,130.8 362.5,137 356,143.2 349.5,137" fill="#1f8fd2"/>
<text x="366.6" y="23.6" class="lg">--Ni<tspan class="s">3</tspan>Si<tspan class="s">2</tspan>O<tspan class="s">5</tspan>(OH)<tspan class="s">4</tspan></text>
<text x="366.6" y="44.2" class="lg">--(Ni,Mg)<tspan class="s">3</tspan>Si<tspan class="s">2</tspan>O<tspan class="s">5</tspan>(OH)<tspan class="s">4</tspan></text>
<text x="366.6" y="62.7" class="lg">--Mg<tspan class="s">3</tspan>Si<tspan class="s">2</tspan>O<tspan class="s">5</tspan>(OH)<tspan class="s">4</tspan></text>
<text x="366.6" y="81.7" class="lg">--(Mg,Fe)<tspan class="s">3</tspan>(Si,Al)<tspan class="s">3</tspan>O<tspan class="s">7</tspan>(OH)<tspan class="s">4</tspan></text>
<text x="366.6" y="102.4" class="lg">--FeOOH</text>
<text x="366.6" y="122.4" class="lg">--Fe<tspan class="s">2</tspan>O<tspan class="s">3</tspan></text>
<text x="366.6" y="141.1" class="lg">--SiO<tspan class="s">2</tspan></text>
<rect x="64.2" y="6.9" width="471.8" height="230.3" fill="none" stroke="#000" stroke-width="2.2"/>
<line x1="123.2" y1="236.5" x2="123.2" y2="233.1" stroke="#000" stroke-width="1.6"/><line x1="182.2" y1="236.5" x2="182.2" y2="233.1" stroke="#000" stroke-width="1.6"/><line x1="241.2" y1="236.5" x2="241.2" y2="233.1" stroke="#000" stroke-width="1.6"/><line x1="300.2" y1="236.5" x2="300.2" y2="233.1" stroke="#000" stroke-width="1.6"/><line x1="359.2" y1="236.5" x2="359.2" y2="233.1" stroke="#000" stroke-width="1.6"/><line x1="418.2" y1="236.5" x2="418.2" y2="233.1" stroke="#000" stroke-width="1.6"/><line x1="477.2" y1="236.5" x2="477.2" y2="233.1" stroke="#000" stroke-width="1.6"/><line x1="65" y1="230.6" x2="69.2" y2="230.6" stroke="#000" stroke-width="1.6"/><line x1="65" y1="166.7" x2="69.2" y2="166.7" stroke="#000" stroke-width="1.6"/><line x1="65" y1="102.6" x2="69.2" y2="102.6" stroke="#000" stroke-width="1.6"/><line x1="65" y1="38.5" x2="69.2" y2="38.5" stroke="#000" stroke-width="1.6"/>
<text x="64.2" y="253" class="tk" text-anchor="middle">10</text><text x="123.2" y="253" class="tk" text-anchor="middle">20</text><text x="182.2" y="253" class="tk" text-anchor="middle">30</text><text x="241.2" y="253" class="tk" text-anchor="middle">40</text><text x="300.2" y="253" class="tk" text-anchor="middle">50</text><text x="359.2" y="253" class="tk" text-anchor="middle">60</text><text x="418.2" y="253" class="tk" text-anchor="middle">70</text><text x="477.2" y="253" class="tk" text-anchor="middle">80</text><text x="536.2" y="253" class="tk" text-anchor="middle">90</text>
<text x="60" y="236.0" class="tk" text-anchor="end">10000</text><text x="60" y="172.1" class="tk" text-anchor="end">12500</text><text x="60" y="108.0" class="tk" text-anchor="end">15000</text><text x="60" y="43.9" class="tk" text-anchor="end">17500</text>
<text x="298.5" y="268" class="ax" text-anchor="middle" style="font-size:15.4px">Angle /2θ</text>
<text transform="translate(17.7,121) rotate(-90)" class="ax" text-anchor="middle">Intensity /Counts</text>
</svg>
</body></html>
